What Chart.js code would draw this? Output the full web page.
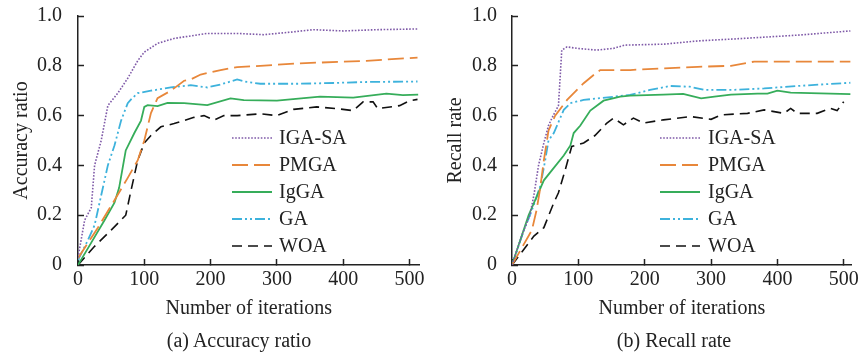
<!DOCTYPE html>
<html>
<head>
<meta charset="utf-8">
<script src="https://cdn.jsdelivr.net/npm/chart.js@4.4.1/dist/chart.umd.min.js"></script>
<style>
  html, body { margin: 0; padding: 0; background: #fff; }
  #wrap { position: relative; width: 861px; height: 354px; background: #fff; overflow: hidden; }
  canvas { position: absolute; top: 0; }
  .cap { position: absolute; top: 328px; width: 240px; text-align: center;
         font: 20px "Liberation Serif", "DejaVu Serif", serif; line-height: 24px; color: #222; }
</style>
</head>
<body>
<div id="wrap">
  <canvas id="c1" width="430" height="354" style="left:0"></canvas>
  <canvas id="c2" width="431" height="354" style="left:430px"></canvas>
  <div class="cap" style="left:119px">(a) Accuracy ratio</div>
  <div class="cap" style="left:554px">(b) Recall rate</div>
</div>
<script>
// ---------- data ----------
const seriesNames = ['IGA-SA', 'PMGA', 'IgGA', 'GA', 'WOA'];
const xTickValues = [0, 100, 200, 300, 400, 500];
const xTickLabels = ['0', '100', '200', '300', '400', '500'];
const yTickValues = [0, 0.2, 0.4, 0.6, 0.8, 1.0];
const yTickLabels = ['0', '0.2', '0.4', '0.6', '0.8', '1.0'];

// (a) Accuracy ratio
const accIgaSaX = [0, 10, 20, 25, 35, 45, 60, 75, 90, 100, 120, 145, 170, 195, 240, 280, 320, 355, 400, 450, 512];
const accIgaSaY = [0.03, 0.18, 0.23, 0.40, 0.50, 0.64, 0.69, 0.75, 0.82, 0.855, 0.89, 0.91, 0.92, 0.93, 0.93, 0.925, 0.935, 0.945, 0.94, 0.945, 0.948];
const accPmgaX = [0, 30, 55, 75, 90, 100, 110, 120, 140, 160, 170, 185, 215, 240, 275, 335, 435, 512];
const accPmgaY = [0.027, 0.15, 0.26, 0.35, 0.42, 0.50, 0.61, 0.67, 0.70, 0.74, 0.745, 0.765, 0.783, 0.795, 0.80, 0.81, 0.82, 0.833];
const accIggaX = [0, 20, 40, 55, 62, 68, 72, 85, 95, 100, 105, 120, 135, 160, 195, 230, 250, 300, 365, 415, 465, 490, 513];
const accIggaY = [0, 0.09, 0.18, 0.25, 0.31, 0.40, 0.46, 0.53, 0.58, 0.635, 0.642, 0.638, 0.651, 0.65, 0.642, 0.669, 0.662, 0.66, 0.676, 0.672, 0.688, 0.682, 0.684];
const accGaX = [0, 15, 25, 35, 45, 55, 65, 75, 80, 90, 110, 140, 170, 195, 215, 240, 255, 275, 335, 385, 435, 512];
const accGaY = [0.02, 0.1, 0.16, 0.28, 0.40, 0.48, 0.58, 0.65, 0.665, 0.69, 0.70, 0.713, 0.722, 0.713, 0.725, 0.745, 0.735, 0.728, 0.728, 0.731, 0.735, 0.737];
const accWoaX = [0, 25, 50, 72, 80, 90, 100, 110, 125, 145, 175, 190, 205, 220, 240, 275, 300, 325, 360, 390, 415, 430, 445, 452, 485, 500, 512];
const accWoaY = [0, 0.075, 0.14, 0.20, 0.30, 0.42, 0.49, 0.52, 0.555, 0.568, 0.593, 0.60, 0.582, 0.60, 0.60, 0.607, 0.60, 0.625, 0.635, 0.628, 0.62, 0.655, 0.655, 0.628, 0.64, 0.66, 0.665];

// (b) Recall rate
const recIgaSaX = [0, 15, 27, 33, 40, 48, 55, 62, 70, 75, 83, 98, 128, 153, 170, 230, 280, 330, 380, 430, 510];
const recIgaSaY = [0, 0.12, 0.20, 0.28, 0.40, 0.49, 0.56, 0.60, 0.64, 0.863, 0.876, 0.87, 0.863, 0.87, 0.883, 0.887, 0.9, 0.907, 0.915, 0.923, 0.94];
const recPmgaX = [0, 15, 30, 37, 42, 48, 55, 65, 83, 108, 123, 133, 178, 230, 280, 330, 365, 400, 510];
const recPmgaY = [0, 0.07, 0.14, 0.22, 0.30, 0.42, 0.54, 0.60, 0.663, 0.73, 0.763, 0.783, 0.783, 0.79, 0.796, 0.8, 0.817, 0.817, 0.817];
const recIggaX = [0, 25, 48, 60, 78, 88, 93, 103, 118, 138, 163, 178, 228, 258, 285, 305, 330, 370, 385, 400, 420, 510];
const recIggaY = [0, 0.2, 0.34, 0.38, 0.44, 0.48, 0.53, 0.56, 0.62, 0.66, 0.676, 0.68, 0.684, 0.687, 0.669, 0.676, 0.684, 0.688, 0.688, 0.70, 0.692, 0.686];
const recGaX = [0, 18, 30, 43, 50, 55, 63, 78, 88, 108, 133, 178, 208, 238, 268, 290, 330, 380, 430, 510];
const recGaY = [0, 0.14, 0.22, 0.32, 0.42, 0.50, 0.53, 0.623, 0.65, 0.663, 0.67, 0.683, 0.703, 0.719, 0.716, 0.703, 0.703, 0.709, 0.719, 0.732];
const recWoaX = [0, 20, 33, 48, 63, 70, 80, 90, 108, 125, 143, 153, 168, 183, 198, 228, 270, 300, 315, 355, 380, 410, 420, 430, 460, 480, 490, 500];
const recWoaY = [0, 0.07, 0.116, 0.15, 0.25, 0.29, 0.38, 0.476, 0.49, 0.52, 0.57, 0.59, 0.563, 0.59, 0.57, 0.583, 0.596, 0.585, 0.603, 0.609, 0.623, 0.609, 0.629, 0.609, 0.609, 0.629, 0.62, 0.656];

// ---------- styles ----------
const styles = [
  { color: '#7f5aa8', dash: [1.6, 1.6], width: 1.6 },
  { color: '#e8873a', dash: [16, 6], width: 1.8 },
  { color: '#36ad5a', dash: [], width: 1.8 },
  { color: '#3db2dc', dash: [10, 3, 2, 3, 2, 3], width: 1.8 },
  { color: '#111111', dash: [10, 6], width: 1.6 }
];

const FONT = '"Liberation Serif", "DejaVu Serif", serif';
const TXT = '#222';

function pts(xs, ys) { return xs.map((x, i) => ({ x: x, y: ys[i] })); }

function makeDatasets(pairs) {
  return pairs.map((p, i) => ({
    label: seriesNames[i],
    data: pts(p[0], p[1]),
    borderColor: styles[i].color,
    borderWidth: styles[i].width,
    borderDash: styles[i].dash,
    pointRadius: 0,
    fill: false,
    tension: 0
  }));
}

const insideLegend = {
  id: 'insideLegend',
  afterDatasetsDraw(chart, args, opts) {
    const ctx = chart.ctx;
    ctx.save();
    ctx.font = '20px ' + FONT;
    ctx.textBaseline = 'middle';
    ctx.textAlign = 'left';
    chart.data.datasets.forEach((ds, i) => {
      const y = opts.y + i * opts.rowH;
      ctx.strokeStyle = ds.borderColor;
      ctx.lineWidth = ds.borderWidth;
      ctx.setLineDash(ds.borderDash || []);
      ctx.beginPath();
      ctx.moveTo(opts.x, y);
      ctx.lineTo(opts.x + opts.len, y);
      ctx.stroke();
      ctx.setLineDash([]);
      ctx.fillStyle = TXT;
      ctx.fillText(ds.label, opts.x + opts.len + opts.gap, y + 1);
    });
    ctx.restore();
  }
};

function makeChart(id, datasets, cfg) {
  return new Chart(document.getElementById(id), {
    type: 'line',
    data: { datasets: datasets },
    plugins: [insideLegend],
    options: {
      responsive: false,
      animation: false,
      events: [],
      layout: { padding: { top: 16, right: cfg.padRight, bottom: 0, left: 0 } },
      plugins: {
        legend: { display: false },
        tooltip: { enabled: false },
        insideLegend: cfg.legend
      },
      scales: {
        x: {
          type: 'linear',
          min: 0,
          max: cfg.xMax,
          afterBuildTicks: s => { s.ticks = xTickValues.map(v => ({ value: v })); },
          afterFit: s => { s.height = 89; s.paddingLeft = 0; s.paddingRight = 0; },
          ticks: {
            callback: (v, i) => xTickLabels[i],
            color: TXT, font: { family: FONT, size: 20 },
            padding: 9, maxRotation: 0, autoSkip: false, includeBounds: false
          },
          grid: { drawOnChartArea: false, drawTicks: true, tickLength: -6, tickColor: TXT, tickWidth: 1.5 },
          border: { display: true, color: TXT, width: 1.5 },
          title: { display: true, text: 'Number of iterations', color: TXT,
                   font: { family: FONT, size: 20 }, padding: { top: 0, bottom: 33 } }
        },
        y: {
          type: 'linear',
          min: 0,
          max: 1,
          afterBuildTicks: s => { s.ticks = yTickValues.map(v => ({ value: v })); },
          afterFit: s => { s.width = cfg.yWidth; s.paddingTop = 0; s.paddingBottom = 0; },
          ticks: {
            callback: (v, i) => yTickLabels[i],
            color: TXT, font: { family: FONT, size: 20 },
            padding: cfg.yPad, autoSkip: false
          },
          grid: { drawOnChartArea: false, drawTicks: true, tickLength: -6, tickColor: TXT, tickWidth: 1.5 },
          border: { display: true, color: TXT, width: 1.5 },
          title: { display: true, text: cfg.yTitle, color: TXT,
                   font: { family: FONT, size: 20 }, padding: { top: cfg.yTitlePad, bottom: 0 } }
        }
      }
    }
  });
}

makeChart('c1', makeDatasets([
  [accIgaSaX, accIgaSaY], [accPmgaX, accPmgaY], [accIggaX, accIggaY], [accGaX, accGaY], [accWoaX, accWoaY]
]), {
  xMax: 515, padRight: 10.5, yWidth: 78, yPad: 22, yTitlePad: 10, yTitle: 'Accuracy ratio',
  legend: { x: 232, y: 138, rowH: 27, len: 40, gap: 7 }
});

makeChart('c2', makeDatasets([
  [recIgaSaX, recIgaSaY], [recPmgaX, recPmgaY], [recIggaX, recIggaY], [recGaX, recGaY], [recWoaX, recWoaY]
]), {
  xMax: 512, padRight: 9.3, yWidth: 82, yPad: 21, yTitlePad: 14, yTitle: 'Recall rate',
  legend: { x: 230, y: 138, rowH: 27, len: 40, gap: 8 }
});
</script>
</body>
</html>
